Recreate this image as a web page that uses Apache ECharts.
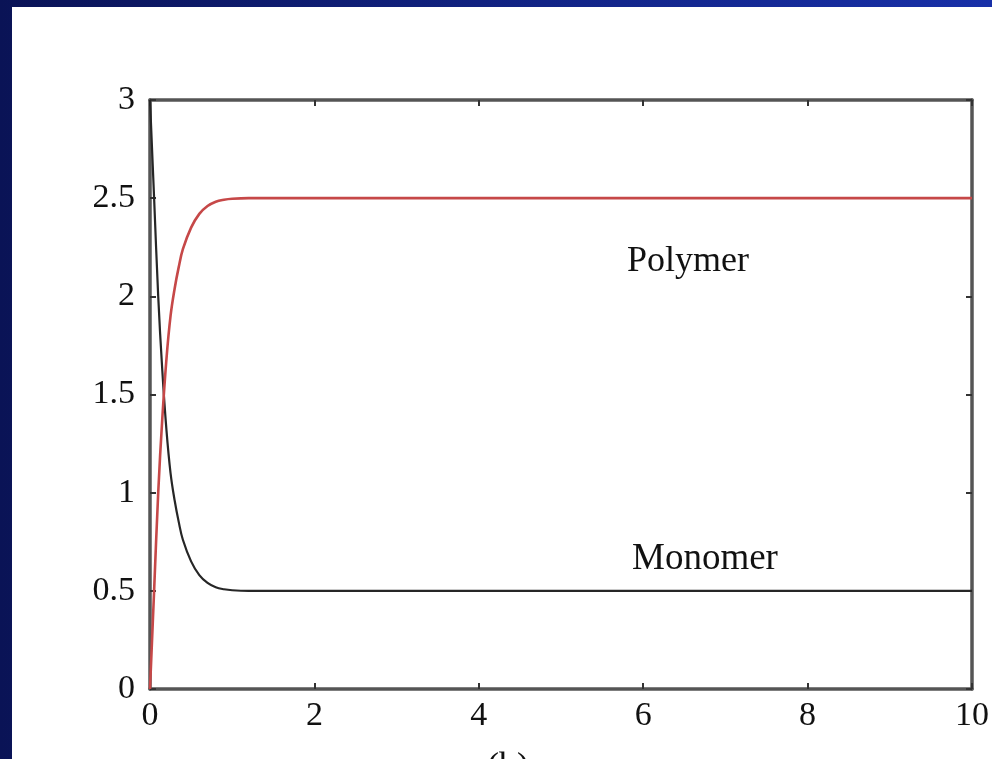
<!DOCTYPE html>
<html lang="en" style="height: 100%">
<head>
  <meta charset="utf-8">
</head>
<body style="height: 100%; margin: 0; overflow: hidden; background: linear-gradient(90deg, #0a1356 0%, #122486 55%, #1830a8 100%);">
  <div id="container" style="position: absolute; left: 12px; top: 7px; width: 980px; height: 752px; background: #ffffff;"></div>

  <script type="text/javascript" src="https://cdn.jsdelivr.net/npm/echarts@6/dist/echarts.min.js"></script>
  <script type="text/javascript">
    // time values and the two curves
    var times = [0, 0.05, 0.1, 0.15, 0.2, 0.25, 0.3, 0.35, 0.4, 0.5, 0.6, 0.7, 0.8, 0.9, 1.0, 1.2, 1.5, 2, 4, 6, 8, 10];
    var polymer = [0, 0.5, 1.0, 1.38, 1.68, 1.9, 2.04, 2.15, 2.24, 2.35, 2.42, 2.46, 2.482, 2.492, 2.497, 2.5, 2.5, 2.5, 2.5, 2.5, 2.5, 2.5];
    var monomer = [3, 2.5, 2.0, 1.62, 1.32, 1.1, 0.96, 0.85, 0.76, 0.65, 0.58, 0.54, 0.518, 0.508, 0.503, 0.5, 0.5, 0.5, 0.5, 0.5, 0.5, 0.5];
    var xTicks = [0, 2, 4, 6, 8, 10];
    var yTicks = [0, 0.5, 1, 1.5, 2, 2.5, 3];

    var dom = document.getElementById('container');
    var myChart = echarts.init(dom, null, { renderer: 'canvas' });

    var serif = '"Liberation Serif", "DejaVu Serif", serif';
    var frameLine = { onZero: false, lineStyle: { color: '#555', width: 3.5 } };
    var inTicks = { show: true, inside: true, length: 6, lineStyle: { color: '#333', width: 2 } };

    function pairs(ys) {
      return times.map(function (t, i) { return [t, ys[i]]; });
    }

    var option = {
      animation: false,
      grid: { left: 138, right: 17, top: 93, bottom: 70 },
      xAxis: [
        {
          type: 'value', min: xTicks[0], max: xTicks[xTicks.length - 1], interval: 2,
          axisLine: frameLine, axisTick: inTicks, splitLine: { show: false },
          axisLabel: { color: '#111', fontFamily: serif, fontSize: 34, margin: 10 }
        },
        {
          type: 'value', position: 'top', min: 0, max: 10, interval: 2,
          axisLine: frameLine, axisTick: inTicks, splitLine: { show: false },
          axisLabel: { show: false }
        }
      ],
      yAxis: [
        {
          type: 'value', min: yTicks[0], max: yTicks[yTicks.length - 1], interval: 0.5,
          axisLine: frameLine, axisTick: inTicks, splitLine: { show: false },
          axisLabel: { color: '#111', fontFamily: serif, fontSize: 34, margin: 15 }
        },
        {
          type: 'value', position: 'right', min: 0, max: 3, interval: 0.5,
          axisLine: frameLine, axisTick: inTicks, splitLine: { show: false },
          axisLabel: { show: false }
        }
      ],
      series: [
        {
          name: 'Monomer', type: 'line', data: pairs(monomer),
          smooth: 0.4, showSymbol: false,
          lineStyle: { color: '#262626', width: 2.2 }
        },
        {
          name: 'Polymer', type: 'line', data: pairs(polymer),
          smooth: 0.4, showSymbol: false,
          lineStyle: { color: '#c64848', width: 2.6 }
        }
      ],
      graphic: [
        {
          type: 'text', left: 615, top: 237,
          style: { text: 'Polymer', font: '36px ' + serif, fill: '#111' }
        },
        {
          type: 'text', left: 620, top: 534,
          style: { text: 'Monomer', font: '37px ' + serif, fill: '#111' }
        },
        {
          type: 'text', left: 475, top: 743,
          style: { text: '(b)', font: '36px ' + serif, fill: '#111' }
        }
      ]
    };

    myChart.setOption(option);
    window.addEventListener('resize', myChart.resize);
  </script>
</body>
</html>
